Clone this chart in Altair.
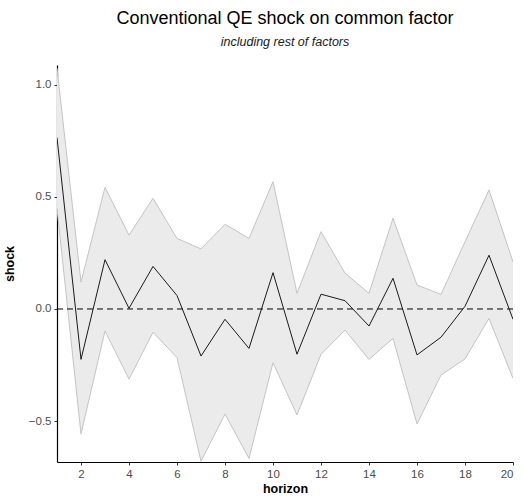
import altair as alt
import pandas as pd

horizon = list(range(1, 21))
response = [0.765, -0.225, 0.22, 0.003, 0.19, 0.06, -0.21, -0.046, -0.176, 0.162,
            -0.202, 0.066, 0.037, -0.076, 0.137, -0.205, -0.126, 0.012, 0.24, -0.046]
upper = [1.075, 0.12, 0.543, 0.33, 0.494, 0.315, 0.268, 0.378, 0.315, 0.568,
         0.07, 0.345, 0.16, 0.07, 0.405, 0.107, 0.065, 0.30, 0.531, 0.21]
lower = [0.45, -0.558, -0.098, -0.313, -0.104, -0.217, -0.68, -0.469, -0.667, -0.24,
         -0.473, -0.202, -0.094, -0.225, -0.131, -0.513, -0.295, -0.223, -0.042, -0.31]
x_ticks = [2, 4, 6, 8, 10, 12, 14, 16, 18, 20]
y_ticks = [-0.5, 0.0, 0.5, 1.0]
zero = [0.0]

df = pd.DataFrame({"horizon": horizon, "shock": response, "upper": upper, "lower": lower})
zdf = pd.DataFrame({"z": zero})

FONT = "Liberation Sans"

x = alt.X("horizon:Q", title="horizon",
          scale=alt.Scale(domain=[1, 20], nice=False, zero=False),
          axis=alt.Axis(values=x_ticks, format="d", grid=False, domainColor="black",
                        tickColor="#333333", tickSize=3, labelColor="#4d4d4d",
                        labelFontSize=11.5, labelFont=FONT, labelPadding=3,
                        titleFont=FONT, titleFontSize=12.5, titleFontWeight="bold",
                        titleColor="black", titlePadding=3, domainWidth=1.2))
yscale = alt.Scale(domain=[-0.683, 1.089], nice=False, zero=False)
yaxis = alt.Axis(values=y_ticks, format=".1f", grid=False, domainColor="black",
                 tickColor="#333333", tickSize=3, labelColor="#4d4d4d",
                 labelFontSize=11.5, labelFont=FONT, labelPadding=3,
                 titleFont=FONT, titleFontSize=12.5, titleFontWeight="bold",
                 titleColor="black", titlePadding=12, domainWidth=1.2)

band = alt.Chart(df).mark_area(color="#ebebeb", opacity=1, clip=True).encode(
    x=x,
    y=alt.Y("lower:Q", scale=yscale, axis=yaxis, title="shock"),
    y2="upper:Q",
)
up_edge = alt.Chart(df).mark_line(color="#c4c4c4", strokeWidth=1, clip=True).encode(
    x="horizon:Q", y="upper:Q")
lo_edge = alt.Chart(df).mark_line(color="#c4c4c4", strokeWidth=1, clip=True).encode(
    x="horizon:Q", y="lower:Q")
zline = alt.Chart(zdf).mark_rule(color="black", strokeDash=[6, 4], strokeWidth=1).encode(
    y="z:Q")
line = alt.Chart(df).mark_line(color="#1a1a1a", strokeWidth=1, clip=True).encode(
    x="horizon:Q", y="shock:Q")

chart = alt.layer(band, up_edge, lo_edge, zline, line).properties(
    width=456,
    height=397,
    autosize="none",
    padding={"left": 57, "top": 65, "right": 10, "bottom": 41},
    background="white",
    title=alt.TitleParams(
        text="Conventional QE shock on common factor",
        subtitle="including rest of factors",
        anchor="middle",
        font=FONT,
        fontSize=18,
        fontWeight="normal",
        color="black",
        subtitleFont=FONT,
        subtitleFontSize=12.5,
        subtitleFontStyle="italic",
        subtitleColor="#1a1a1a",
        subtitlePadding=8,
        offset=17,
    ),
).configure_view(stroke=None, strokeWidth=0)

chart.save("out.html", embed_options={"renderer": "svg", "actions": False})
